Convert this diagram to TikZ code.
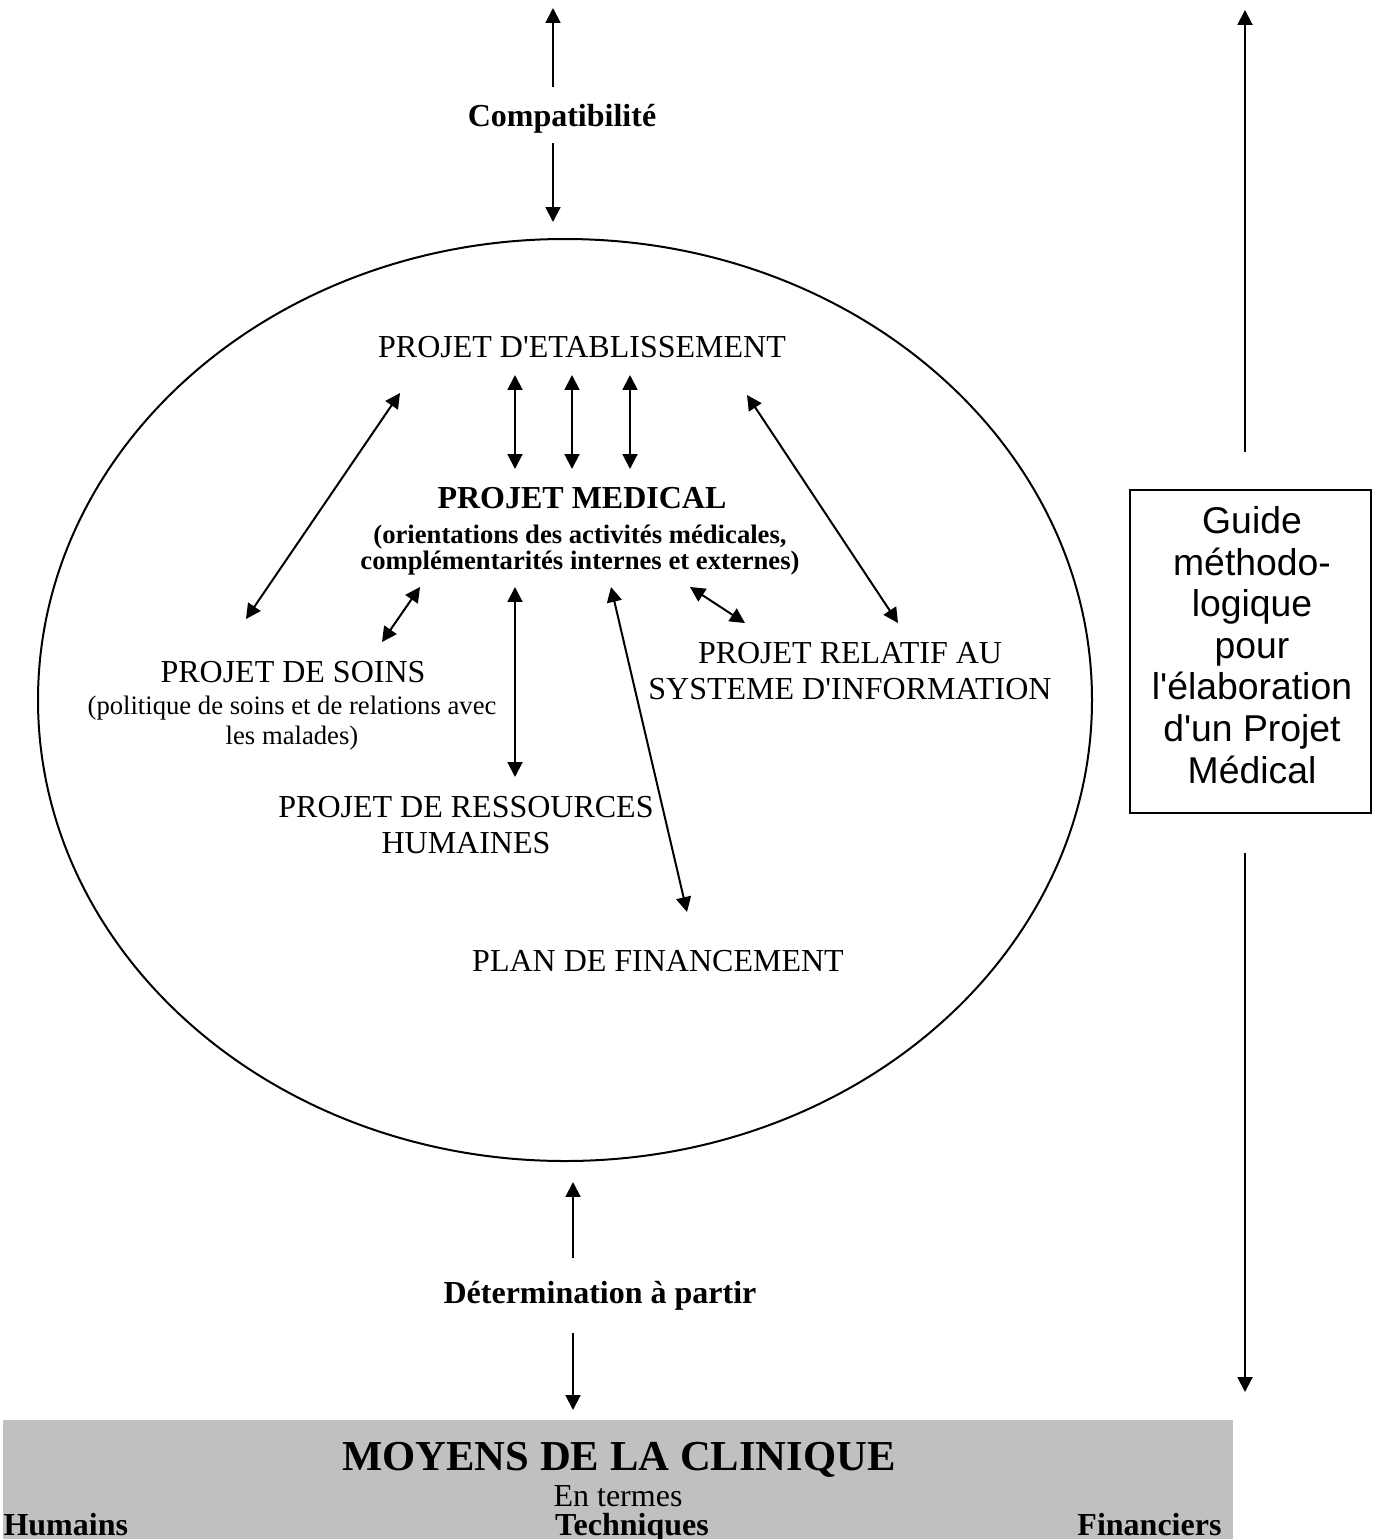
\documentclass[tikz,border=0pt]{standalone}
\usepackage{fontspec}
\setmainfont{Liberation Serif}[Ligatures=TeXOff]
\newfontfamily\guidefont{Liberation Sans}
\usetikzlibrary{arrows.meta}
\definecolor{barfill}{HTML}{C0C0C0}
\begin{document}
\begin{tikzpicture}[x=0.375pt,y=-0.375pt,
  link/.style={line width=0.75pt,-{Triangle[length=5.6pt,width=5.6pt]}},
  dlink/.style={line width=0.75pt,{Triangle[length=5.6pt,width=5.6pt]}-{Triangle[length=5.6pt,width=5.6pt]}},
  txt/.style={inner sep=0pt,anchor=base,align=center,font=\fontsize{12}{13.5}\selectfont},
  btxt/.style={inner sep=0pt,anchor=base,align=center,font=\bfseries\fontsize{12}{13.5}\selectfont},
  small/.style={inner sep=0pt,anchor=base,align=center,font=\fontsize{10}{10.9}\selectfont},
  bsmall/.style={inner sep=0pt,anchor=base,align=center,font=\bfseries\fontsize{10}{9.6}\selectfont}]
\useasboundingbox (0,0) rectangle (1375,1539);

% central ellipse
\draw[line width=0.75pt] (565,700) ellipse [x radius=527, y radius=461];

% texts inside the ellipse (multi-line nodes sit on their last baseline)
\node[txt] (etab) at (582,357) {PROJET D'ETABLISSEMENT};
\node[btxt] (med) at (582,508) {PROJET MEDICAL};
\node[bsmall] (medsub) at (580,569) {(orientations des activités médicales,\\complémentarités internes et externes)};
\node[txt] (soins) at (293,682) {PROJET DE SOINS};
\node[small] (soinssub) at (292,744) {(politique de soins et de relations avec\\les malades)};
\node[txt] (info) at (850,699) {PROJET RELATIF AU\\SYSTEME D'INFORMATION};
\node[txt] (rh) at (466,853) {PROJET DE RESSOURCES\\HUMAINES};
\node[txt] (fin) at (658,971) {PLAN DE FINANCEMENT};

% arrow end points
\coordinate (e1a) at (515,375); \coordinate (e1b) at (515,469);
\coordinate (e2a) at (572,375); \coordinate (e2b) at (572,469);
\coordinate (e3a) at (630,375); \coordinate (e3b) at (630,469);
\coordinate (dla) at (400,393); \coordinate (dlb) at (246,619);
\coordinate (dra) at (747,395); \coordinate (drb) at (898,623);
\coordinate (sa) at (420,587); \coordinate (sb) at (382,642);
\coordinate (ra) at (515,587); \coordinate (rb) at (515,777);
\coordinate (fa) at (611,587); \coordinate (fb) at (687,912);
\coordinate (ia) at (690,587); \coordinate (ib) at (745,623);

\draw[dlink] (e1a) -- (e1b);
\draw[dlink] (e2a) -- (e2b);
\draw[dlink] (e3a) -- (e3b);
\draw[dlink] (dla) -- (dlb);
\draw[dlink] (dra) -- (drb);
\draw[dlink] (sa) -- (sb);
\draw[dlink] (ra) -- (rb);
\draw[dlink] (fa) -- (fb);
\draw[dlink] (ia) -- (ib);

% compatibility link at the top
\node[btxt] (compat) at (562,126) {Compatibilité};
\coordinate (c1s) at (553,87); \coordinate (c1e) at (553,8);
\coordinate (c2s) at (553,143); \coordinate (c2e) at (553,222);
\draw[link] (c1s) -- (c1e);
\draw[link] (c2s) -- (c2e);

% determination link at the bottom
\node[btxt] (determ) at (600,1303) {Détermination à partir};
\coordinate (d1s) at (573,1258); \coordinate (d1e) at (573,1182);
\coordinate (d2s) at (573,1333); \coordinate (d2e) at (573,1410);
\draw[link] (d1s) -- (d1e);
\draw[link] (d2s) -- (d2e);

% guide box on the right
\node[draw,line width=0.75pt,minimum width=241*0.375pt,minimum height=323*0.375pt,inner sep=0pt] (guidebox) at (1250,651) {};
\node[inner sep=0pt,anchor=base,align=center,font=\guidefont\fontsize{14}{15.6}\selectfont] (guide) at (1252,783)
  {Guide\\méthodo-\\logique\\pour\\l'élaboration\\d'un Projet\\Médical};
\coordinate (g1s) at (1245,452); \coordinate (g1e) at (1245,10);
\coordinate (g2s) at (1245,853); \coordinate (g2e) at (1245,1392);
\draw[link] (g1s) -- (g1e);
\draw[link] (g2s) -- (g2e);

% resources bar
\fill[barfill] (3,1420) rectangle (1233,1539);
\node[inner sep=0pt,anchor=base,font=\bfseries\fontsize{16}{18}\selectfont] (moyens) at (619,1470) {MOYENS DE LA CLINIQUE};
\node[txt] (termes) at (618,1506) {En termes};
\node[btxt,anchor=base west] (hum) at (3,1535) {Humains};
\node[btxt] (tech) at (632,1535) {Techniques};
\node[btxt,anchor=base east] (finan) at (1222,1535) {Financiers};
\end{tikzpicture}
\end{document}
